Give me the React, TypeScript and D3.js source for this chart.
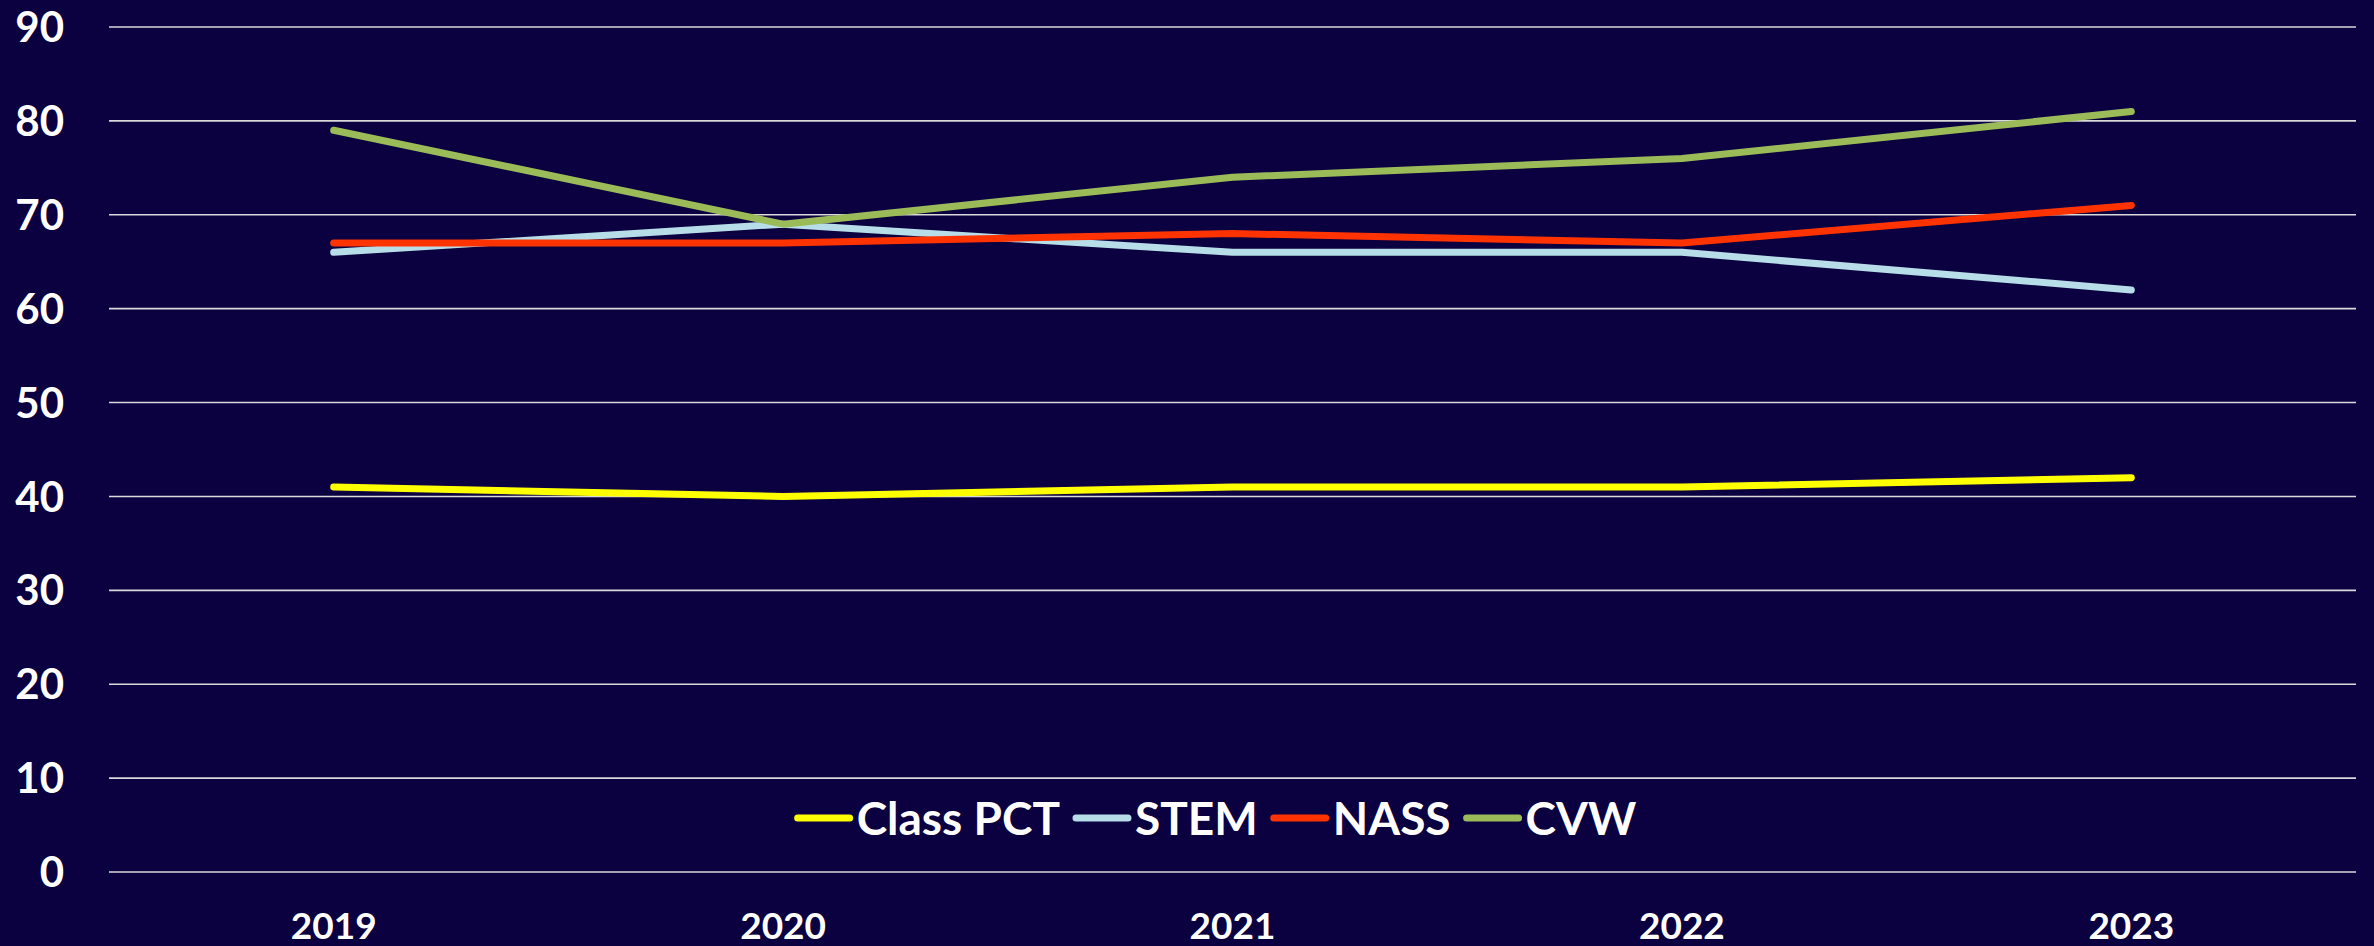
import React, { useEffect, useRef } from "react";
import * as d3 from "d3";

const W = 2374;
const H = 946;

const years = ["2019", "2020", "2021", "2022", "2023"];
const classPct = [41, 40, 41, 41, 42];
const stem = [66, 69, 66, 66, 62];
const nass = [67, 67, 68, 67, 71];
const cvw = [79, 69, 74, 76, 81];
const yTicks = [0, 10, 20, 30, 40, 50, 60, 70, 80, 90];

const seriesNames = ["Class PCT", "STEM", "NASS", "CVW"];
const seriesValues = [classPct, stem, nass, cvw];
const seriesColors = ["#FFFF00", "#B7DEE8", "#FF3300", "#9BBB59"];

const BG = "#0B0040";
const FONT = "Lato, 'Open Sans', sans-serif";

export default function App() {
  const ref = useRef<SVGSVGElement | null>(null);

  useEffect(() => {
    document.body.style.margin = "0";
    const svg = d3.select(ref.current);
    svg.selectAll("*").remove();

    const left = 109;
    const right = 2356;
    const top = 27;
    const bottom = 872;

    const x = d3.scaleBand<string>().domain(years).range([left, right]);
    const y = d3.scaleLinear().domain([0, 90]).range([bottom, top]);

    svg.append("rect").attr("width", W).attr("height", H).attr("fill", BG);

    svg
      .append("g")
      .selectAll("line")
      .data(yTicks)
      .join("line")
      .attr("x1", left)
      .attr("x2", right)
      .attr("y1", (d) => y(d))
      .attr("y2", (d) => y(d))
      .attr("stroke", "#D9D9D9")
      .attr("stroke-width", 1.6);

    svg
      .append("g")
      .selectAll("text")
      .data(yTicks)
      .join("text")
      .attr("x", 64)
      .attr("y", (d) => y(d))
      .attr("dy", "0.36em")
      .attr("text-anchor", "end")
      .attr("fill", "#FFFFFF")
      .attr("font-family", FONT)
      .attr("font-weight", 700)
      .attr("font-size", 42)
      .text((d) => String(d));

    svg
      .append("g")
      .selectAll("text")
      .data(years)
      .join("text")
      .attr("x", (d) => (x(d) as number) + x.bandwidth() / 2)
      .attr("y", 939)
      .attr("text-anchor", "middle")
      .attr("fill", "#FFFFFF")
      .attr("font-family", FONT)
      .attr("font-weight", 700)
      .attr("font-size", 37)
      .text((d) => d);

    const line = d3
      .line<number>()
      .x((_, i) => (x(years[i]) as number) + x.bandwidth() / 2)
      .y((d) => y(d));

    svg
      .append("g")
      .selectAll("path")
      .data(seriesValues)
      .join("path")
      .attr("d", (d) => line(d) as string)
      .attr("fill", "none")
      .attr("stroke", (_, i) => seriesColors[i])
      .attr("stroke-width", 7)
      .attr("stroke-linecap", "round")
      .attr("stroke-linejoin", "round");

    const lg = svg.append("g");
    const legendY = 818;
    const lineLen = 56;
    let cx = 0;
    seriesNames.forEach((name, i) => {
      const g = lg.append("g");
      g.append("line")
        .attr("x1", 4)
        .attr("x2", lineLen)
        .attr("y1", 0)
        .attr("y2", 0)
        .attr("stroke", seriesColors[i])
        .attr("stroke-width", 7)
        .attr("stroke-linecap", "round");
      const t = g
        .append("text")
        .attr("x", lineLen + 7)
        .attr("y", 0)
        .attr("dy", "0.36em")
        .attr("fill", "#FFFFFF")
        .attr("font-family", FONT)
        .attr("font-weight", 700)
        .attr("font-size", 46)
        .text(name);
      const tw = (t.node() as SVGTextElement).getComputedTextLength();
      g.attr("transform", `translate(${cx},${legendY})`);
      cx += lineLen + 7 + tw + 12;
    });
    const total = cx - 12;
    const startX = 1215 - total / 2;
    lg.attr("transform", `translate(${startX},0)`);
  }, []);

  return (
    <svg
      ref={ref}
      width={W}
      height={H}
      style={{ position: "absolute", left: 0, top: 0, display: "block" }}
    />
  );
}
